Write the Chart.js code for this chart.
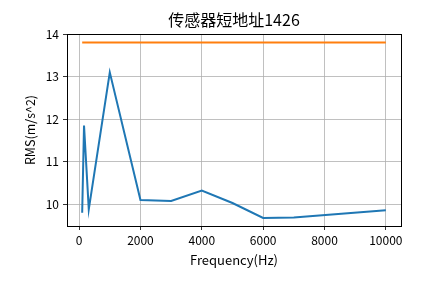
<!DOCTYPE html>
<html>
<head>
<meta charset="utf-8">
<script src="https://cdn.jsdelivr.net/npm/chart.js@4"></script>
<style>
  html, body { margin: 0; padding: 0; background: #fff; }
  #wrap { width: 445px; height: 283px; }
</style>
</head>
<body>
<div id="wrap"><canvas id="chart" width="445" height="283"></canvas></div>
<script>
// datos
const frequencies = [100, 160, 315, 1000, 2000, 3000, 4000, 5000, 6000, 7000, 10000];
const rmsValues = [9.8, 11.85, 9.88, 13.1, 10.1, 10.08, 10.32, 10.03, 9.68, 9.69, 9.86];
const limitX = [100, 10000];
const limitValues = [13.8, 13.8];
const xTicks = [0, 2000, 4000, 6000, 8000, 10000];
const yTicks = [10, 11, 12, 13, 14];
const chartTitle = '传感器短地址1426';

const font = "'Noto Sans CJK SC', 'DejaVu Sans', sans-serif";

// marco negro y titulo centrado sobre el area del grafico
const framePlugin = {
    id: 'frame',
    afterDraw(chart) {
        const a = chart.chartArea;
        const ctx = chart.ctx;
        ctx.save();
        ctx.strokeStyle = '#000';
        ctx.lineWidth = 1;
        ctx.strokeRect(Math.round(a.left) + 0.5, Math.round(a.top) + 0.5,
            Math.round(a.right - a.left), Math.round(a.bottom - a.top));
        ctx.fillStyle = '#000';
        ctx.font = '16px ' + font;
        ctx.textAlign = 'center';
        ctx.textBaseline = 'middle';
        ctx.fillText(chartTitle, (a.left + a.right) / 2, 20);
        ctx.restore();
    }
};

const ctx = document.getElementById('chart').getContext('2d');
new Chart(ctx, {
    type: 'line',
    data: {
        datasets: [
            {
                data: frequencies.map((f, i) => ({ x: f, y: rmsValues[i] })),
                borderColor: '#1f77b4',
                borderWidth: 2,
                pointRadius: 0,
                tension: 0
            },
            {
                data: limitX.map((f, i) => ({ x: f, y: limitValues[i] })),
                borderColor: '#ff7f0e',
                borderWidth: 2,
                pointRadius: 0,
                tension: 0
            }
        ]
    },
    plugins: [framePlugin],
    options: {
        responsive: false,
        animation: false,
        layout: { padding: { left: 0, right: 44, top: 34, bottom: 0 } },
        plugins: {
            legend: { display: false },
            tooltip: { enabled: false },
            title: { display: false }
        },
        scales: {
            x: {
                type: 'linear',
                min: -395,
                max: 10495,
                afterBuildTicks: axis => { axis.ticks = xTicks.map(v => ({ value: v })); },
                afterFit: axis => { axis.height = 57; },
                grid: { color: '#b0b0b0', lineWidth: 0.8, tickColor: '#000', tickLength: 4 },
                border: { display: false },
                ticks: {
                    color: '#000',
                    font: { family: font, size: 12 },
                    padding: 3,
                    maxRotation: 0,
                    callback: v => String(v)
                },
                title: {
                    display: true,
                    text: 'Frequency(Hz)',
                    color: '#000',
                    font: { family: font, size: 13 },
                    padding: { top: 0, bottom: 15 }
                }
            },
            y: {
                type: 'linear',
                min: 9.49,
                max: 14,
                afterBuildTicks: axis => { axis.ticks = yTicks.map(v => ({ value: v })); },
                afterFit: axis => { axis.width = 67; },
                grid: { color: '#b0b0b0', lineWidth: 0.8, tickColor: '#000', tickLength: 4 },
                border: { display: false },
                ticks: {
                    color: '#000',
                    font: { family: font, size: 12 },
                    padding: 4,
                    callback: v => String(v)
                },
                title: {
                    display: true,
                    text: 'RMS(m/s^2)',
                    color: '#000',
                    font: { family: font, size: 12.5 },
                    padding: { top: 23, bottom: 0 }
                }
            }
        }
    }
});
</script>
</body>
</html>
